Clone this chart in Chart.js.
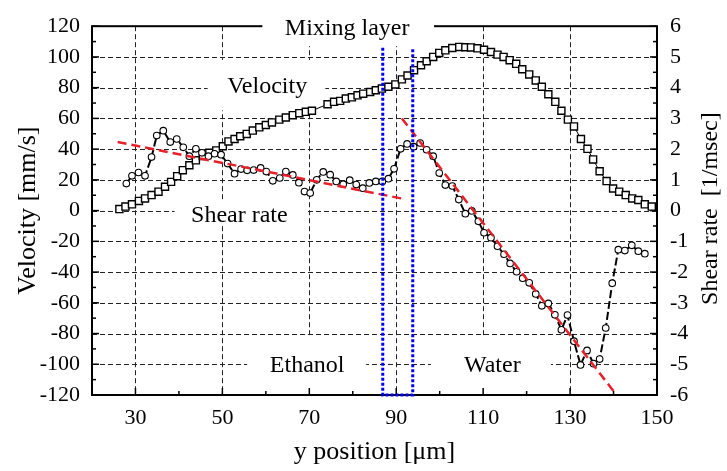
<!DOCTYPE html>
<html>
<head>
<meta charset="utf-8">
<script src="https://cdn.jsdelivr.net/npm/chart.js@4.4.1/dist/chart.umd.min.js"></script>
<style>
  body { margin: 0; background: #fff; }
  canvas { display: block; }
</style>
</head>
<body>
<canvas id="chart" width="727" height="471"></canvas>
<script>
// velocity (squares, left axis)
const velX = [26.3,27.7,29.2,30.8,32.2,33.7,35.3,36.8,38.2,39.6,40.9,42.4,43.9,45.5,47.0,48.6,50.1,51.4,52.8,54.1,55.6,57.0,58.5,60.0,61.4,63.1,64.6,66.2,67.7,69.2,70.6,
  74.2,75.7,77.1,78.4,79.8,81.1,82.4,84.0,85.3,86.7,88.2,89.8,
  91.3,92.6,94.1,95.7,97.0,98.5,99.9,101.3,102.9,104.5,105.9,107.2,108.7,110.2,111.8,113.3,114.7,116.1,117.6,
  119.0,120.6,122.1,123.5,125.0,126.6,128.0,129.5,130.9,132.5,134.0,135.3,136.8,138.4,139.9,141.3,142.8,144.3,145.7,147.2,148.8]
const velY = [1.0,2.6,4.1,6.3,7.9,10.1,12.3,15.5,18.7,22.4,26.3,29.5,32.7,35.5,37.6,39.2,41.9,45.0,46.6,48.4,49.9,52.1,54.2,55.7,57.4,59.2,60.6,62.1,63.4,64.3,65.0,
  69.2,70.8,71.4,72.9,73.7,75.0,76.1,77.2,78.3,79.4,80.6,82.1,
  85.4,87.9,91.4,94.6,97.2,100.0,102.6,104.3,105.8,106.5,106.3,106.2,105.6,104.7,103.2,101.5,100.0,97.9,95.5,
  92.0,88.6,84.7,80.6,75.7,70.8,65.0,59.2,54.8,46.6,40.2,33.3,25.6,19.2,14.4,12.3,10.1,7.9,6.9,4.1,2.6]

// shear rate (circles, right axis)
const shearX = [27.9,29.2,30.7,32.2,33.7,34.9,36.4,38.0,39.5,41.0,
  42.4,43.9,45.3,46.8,48.2,49.7,51.2,52.8,54.3,55.7,
  57.2,58.8,60.1,61.6,63.2,64.6,66.2,67.6,68.9,70.2,
  71.7,73.2,74.8,76.2,77.8,79.3,80.8,82.3,83.8,85.3,
  86.8,88.2,89.5,91.0,92.5,94.0,95.5,97.0,98.5,99.9,
  101.3,102.9,104.4,105.9,107.4,108.9,110.2,111.8,113.3,114.8,
  116.2,117.7,119.1,120.6,122.1,123.5,125.0,126.5,128.0,129.4,
  130.9,132.4,133.9,135.4,136.8,138.2,139.7,141.1,142.6,144.2,
  145.7,147.2]
const shearY = [0.88,1.13,1.24,1.13,1.74,2.44,2.60,2.23,2.33,2.06,
  1.77,2.01,1.88,1.77,1.85,1.82,1.53,1.20,1.35,1.31,
  1.32,1.39,1.27,0.97,1.06,1.27,1.16,0.91,0.62,0.57,
  1.00,1.26,1.17,0.95,0.86,0.99,0.85,0.73,0.90,0.95,
  0.95,1.04,1.36,2.01,2.17,2.08,2.20,1.98,1.77,1.22,
  0.83,0.80,0.36,-0.10,-0.01,-0.35,-0.72,-0.88,-1.16,-1.42,
  -1.72,-1.99,-2.20,-2.35,-2.71,-3.10,-3.02,-3.39,-3.88,-3.40,
  -4.25,-5.02,-4.55,-4.98,-4.83,-3.82,-2.36,-1.27,-1.30,-1.13,
  -1.32,-1.40]

// red fit lines (shear rate axis)
const fitEthX = [25.9, 91.4]
const fitEthY = [2.23, 0.39]
const fitWatX = [91.3, 140.1]
const fitWatY = [3.0, -5.89]

// blue mixing layer box (velocity axis)
const mixX = [86.9, 86.9, 93.8, 93.8]
const mixY = [106, -120, -120, 106]

const xTicks = [30, 50, 70, 90, 110, 130, 150]

function pts(xs, ys) {
  return xs.map(function (v, i) { return { x: v, y: ys[i] } })
}

const serif = "'Liberation Serif', 'Times New Roman', serif"

// text labels in the plot, placed in axis units, with white boxes behind
const notes = [
  { text: 'Mixing layer', x: 78.7, y: 114.2, box: [59.2, 98.7, 135, 107], top: true },
  { text: 'Velocity', x: 60.3, y: 76.8, box: [46.6, 73.7, 98, 65.2] },
  { text: 'Shear rate', x: 53.9, y: -7.1, box: [39.0, 69.5, 7.1, -9.7] },
  { text: 'Ethanol', x: 69.5, y: -105.2, box: [55.7, 83.1, -81.3, -118.7] },
  { text: 'Water', x: 112.1, y: -105.2, box: [98.0, 125.6, -81.3, -118.7] }
]

const framePlugin = {
  id: 'frame',
  beforeDatasetsDraw(chart) {
    const ctx = chart.ctx
    const a = chart.chartArea
    const x = chart.scales.x, y = chart.scales.y, y2 = chart.scales.y2
    function seg(x1, y1, x2, y2_) { ctx.beginPath(); ctx.moveTo(x1, y1); ctx.lineTo(x2, y2_); ctx.stroke() }
    function whiteBox(n) {
      const l = x.getPixelForValue(n.box[0]), r = x.getPixelForValue(n.box[1])
      const t = y.getPixelForValue(n.box[2]), b = y.getPixelForValue(n.box[3])
      ctx.fillStyle = '#fff'
      ctx.fillRect(l, t, r - l, b - t)
    }
    ctx.save()
    // dashed grid
    ctx.strokeStyle = '#222'
    ctx.lineWidth = 1
    ctx.setLineDash([5, 3])
    xTicks.forEach(function (v) {
      const px = Math.round(x.getPixelForValue(v)) + 0.5
      seg(px, a.top, px, a.bottom)
    })
    for (let v = -100; v <= 100; v += 20) {
      const py = Math.round(y.getPixelForValue(v)) + 0.5
      seg(a.left, py, a.right, py)
    }
    ctx.setLineDash([])
    notes.forEach(function (n) { if (!n.top) whiteBox(n) })
    // frame
    ctx.strokeStyle = '#000'
    ctx.lineWidth = 2
    ctx.strokeRect(a.left, a.top, a.right - a.left, a.bottom - a.top)
    // inward ticks
    ctx.lineWidth = 1.5
    for (let v = -120; v <= 120; v += 10) {
      const py = y.getPixelForValue(v)
      seg(a.left, py, a.left + (v % 20 === 0 ? 7 : 4), py)
    }
    for (let v = -6; v <= 6; v += 0.5) {
      const py = y2.getPixelForValue(v)
      seg(a.right, py, a.right - (Number.isInteger(v) ? 7 : 4), py)
    }
    for (let v = 30; v < 150; v += 10) {
      const px = x.getPixelForValue(v)
      seg(px, a.bottom, px, a.bottom - ((v - 30) % 20 === 0 ? 7 : 4))
    }
    notes.forEach(function (n) { if (n.top) whiteBox(n) })
    // label texts
    ctx.fillStyle = '#000'
    ctx.font = '24px ' + serif
    ctx.textAlign = 'center'
    ctx.textBaseline = 'alphabetic'
    notes.forEach(function (n) {
      ctx.fillText(n.text, x.getPixelForValue(n.x), y.getPixelForValue(n.y))
    })
    // right axis title reads bottom to top
    ctx.font = '24px ' + serif
    ctx.textBaseline = 'middle'
    ctx.translate(711, (a.top + a.bottom) / 2 - 2)
    ctx.rotate(-Math.PI / 2)
    ctx.fillText('Shear rate  [1/msec]', 0, 0)
    ctx.restore()
  }
}

const tickFont = { family: serif, size: 22 }

new Chart(document.getElementById('chart'), {
  type: 'line',
  data: {
    datasets: [
      {
        label: 'Velocity',
        data: pts(velX, velY),
        yAxisID: 'y',
        borderColor: '#000',
        borderWidth: 1,
        pointStyle: 'rect',
        pointRadius: 5,
        pointBorderWidth: 1.4,
        pointBorderColor: '#000',
        pointBackgroundColor: '#fff',
        order: 4
      },
      {
        label: 'Shear rate',
        data: pts(shearX, shearY),
        yAxisID: 'y2',
        borderColor: '#000',
        borderWidth: 2,
        borderDash: [8, 3],
        pointStyle: 'circle',
        pointRadius: 3.3,
        pointBorderWidth: 1.1,
        pointBorderColor: '#000',
        pointBackgroundColor: '#fff',
        order: 3
      },
      {
        label: 'fit ethanol',
        data: pts(fitEthX, fitEthY),
        yAxisID: 'y2',
        borderColor: '#e8202a',
        borderWidth: 2.5,
        borderDash: [9, 5],
        pointRadius: 0,
        order: 2
      },
      {
        label: 'fit water',
        data: pts(fitWatX, fitWatY),
        yAxisID: 'y2',
        borderColor: '#e8202a',
        borderWidth: 2.5,
        borderDash: [9, 5],
        pointRadius: 0,
        order: 2
      },
      {
        label: 'mixing layer',
        data: pts(mixX, mixY),
        yAxisID: 'y',
        borderColor: '#0000ff',
        borderWidth: 3,
        borderDash: [3, 2],
        pointRadius: 0,
        clip: false,
        order: 1
      }
    ]
  },
  options: {
    responsive: false,
    animation: false,
    layout: { padding: { top: 23, left: 0, right: 0, bottom: 0 } },
    plugins: { legend: { display: false }, tooltip: { enabled: false } },
    scales: {
      x: {
        type: 'linear',
        min: 20,
        max: 150,
        afterBuildTicks: function (s) { s.ticks = xTicks.map(function (v) { return { value: v } }) },
        afterFit: function (s) { s.height = 76 },
        grid: { display: false, drawTicks: false },
        border: { display: false },
        ticks: { font: tickFont, color: '#000', padding: 10, maxRotation: 0 },
        title: { display: true, text: 'y position [\u03bcm]', font: { family: serif, size: 26 }, color: '#000', padding: { bottom: 3 } }
      },
      y: {
        position: 'left',
        min: -120,
        max: 120,
        afterFit: function (s) { s.width = 92 },
        grid: { display: false, drawTicks: false },
        border: { display: false },
        ticks: { stepSize: 20, font: tickFont, color: '#000', padding: 12 },
        title: { display: true, text: 'Velocity [mm/s]', font: { family: serif, size: 26 }, color: '#000', padding: { top: 13 } }
      },
      y2: {
        position: 'right',
        min: -6,
        max: 6,
        afterFit: function (s) { s.width = 70 },
        grid: { display: false, drawTicks: false },
        border: { display: false },
        ticks: { stepSize: 1, font: tickFont, color: '#000', padding: 13 }
      }
    }
  },
  plugins: [framePlugin]
})
</script>
</body>
</html>
